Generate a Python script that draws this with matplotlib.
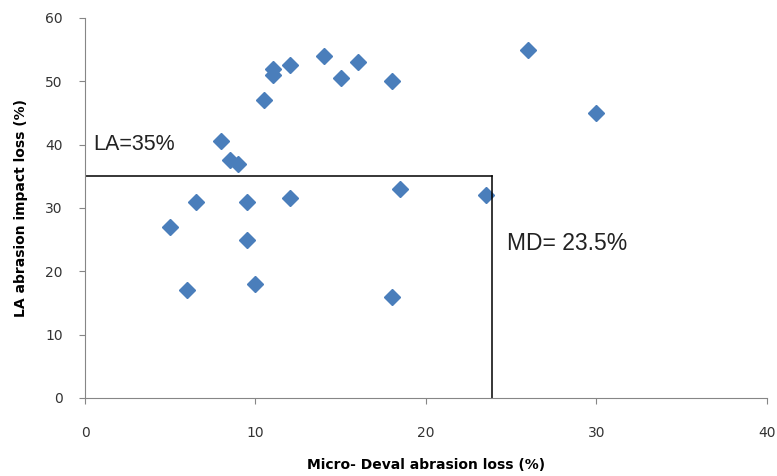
import matplotlib
matplotlib.use("Agg")
import matplotlib.pyplot as plt

# Micro-Deval loss (%) vs LA abrasion impact loss (%)
md_loss = [5, 6, 6.5, 8, 8.5, 9, 9.5, 9.5, 10, 10.5, 11, 11, 12, 12,
           14, 15, 16, 18, 18.5, 18, 23.5, 26, 30]
la_loss = [27, 17, 31, 40.5, 37.5, 37, 31, 25, 18, 47, 52, 51, 52.5, 31.5,
           54, 50.5, 53, 50, 33, 16, 32, 55, 45]

la_limit = 35
md_limit = 23.85
x_ticks = [0, 10, 20, 30, 40]
y_ticks = [0, 10, 20, 30, 40, 50, 60]

fig = plt.figure(figsize=(7.77, 4.76), dpi=100)
ax = fig.add_axes([0.1094, 0.1639, 0.8777, 0.7983])

ax.plot(md_loss, la_loss, linestyle="none", marker="D", markersize=8,
        color="#4A7EBB", markeredgecolor="#4A7EBB")

# threshold lines
ax.plot([0, md_limit], [la_limit, la_limit], color="black", lw=1.1)
ax.plot([md_limit, md_limit], [0, la_limit], color="black", lw=1.1)

ax.text(0.5, 40, "LA=35%", fontsize=15.5, family="Liberation Sans",
        va="center", color="#222222")
ax.text(24.75, 24.4, "MD= 23.5%", fontsize=16.5, family="Liberation Sans",
        va="center", color="#222222")

ax.set_xlim(0, 40)
ax.set_ylim(0, 60)
ax.set_xticks(x_ticks)
ax.set_yticks(y_ticks)

for s in ["top", "right"]:
    ax.spines[s].set_visible(False)
for s in ["left", "bottom"]:
    ax.spines[s].set_color("#868686")

ax.tick_params(axis="x", direction="out", length=4, color="#868686",
               labelsize=10, labelcolor="#333333", pad=16)
ax.tick_params(axis="y", direction="out", length=4, color="#868686",
               labelsize=10, labelcolor="#333333", pad=12)

ax.set_xlabel("Micro- Deval abrasion loss (%)", fontsize=10, fontweight="bold",
              labelpad=13)
ax.set_ylabel("LA abrasion impact loss (%)", fontsize=10, fontweight="bold",
              labelpad=12)

fig.savefig("out.png", dpi=100)
